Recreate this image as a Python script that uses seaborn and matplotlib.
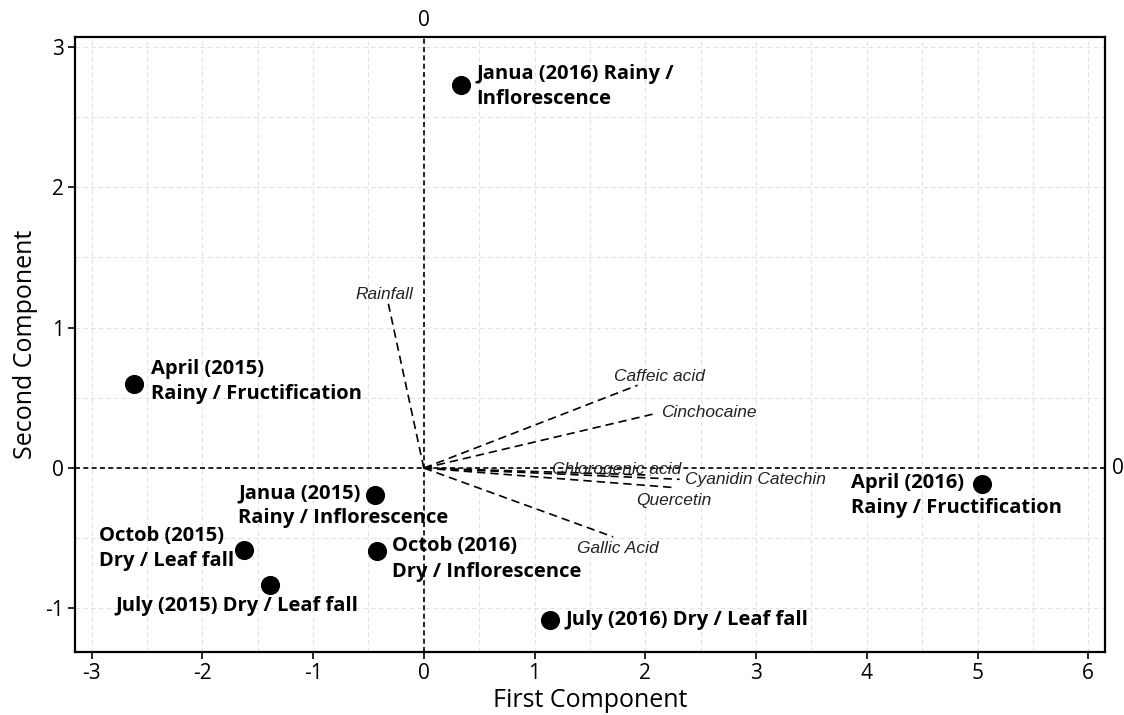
import matplotlib
matplotlib.use("Agg")
import matplotlib.pyplot as plt
import seaborn as sns
import pandas as pd
from matplotlib.ticker import MultipleLocator

# ---- data ----
sample_labels = [
    "Janua (2016) Rainy /\nInflorescence",
    "April (2015)\nRainy / Fructification",
    "Janua (2015)\nRainy / Inflorescence",
    "Octob (2015)\nDry / Leaf fall",
    "July (2015) Dry / Leaf fall",
    "Octob (2016)\nDry / Inflorescence",
    "July (2016) Dry / Leaf fall",
    "April (2016)\nRainy / Fructification",
]
pc1 = [0.34, -2.62, -0.44, -1.62, -1.39, -0.42, 1.14, 5.04]
pc2 = [2.73, 0.60, -0.19, -0.58, -0.83, -0.59, -1.08, -0.11]

var_labels = ["Rainfall", "Caffeic acid", "Cinchocaine", "Chlorogenic acid",
              "Cyanidin Catechin", "Quercetin", "Gallic Acid"]
load1 = [-0.32, 1.93, 2.10, 2.05, 2.31, 2.28, 1.71]
load2 = [1.17, 0.59, 0.39, -0.05, -0.08, -0.14, -0.49]

# ---- styling ----
sns.set_theme(style="white")
plt.rcParams["font.family"] = ["Open Sans", "DejaVu Sans"]
plt.rcParams["axes.unicode_minus"] = False
plt.rcParams["text.color"] = "black"
plt.rcParams["axes.labelcolor"] = "black"
plt.rcParams["xtick.color"] = "black"
plt.rcParams["ytick.color"] = "black"

fig = plt.figure(figsize=(11.24, 7.15), dpi=100)
ax = fig.add_axes([0.0667, 0.0881, 0.9163, 0.8601])

df = pd.DataFrame({"pc1": pc1, "pc2": pc2, "label": sample_labels})

ax.set_xlim(-3.15, 6.15)
ax.set_ylim(-1.31, 3.07)

# grid
ax.xaxis.set_major_locator(MultipleLocator(1))
ax.yaxis.set_major_locator(MultipleLocator(1))
ax.xaxis.set_minor_locator(MultipleLocator(0.5))
ax.yaxis.set_minor_locator(MultipleLocator(0.5))
ax.grid(True, which="both", color="#e2e2e2", linestyle=(0, (4, 3)), linewidth=0.8)
ax.set_axisbelow(True)

# reference lines
ax.axhline(0, color="black", linestyle=(0, (3, 2)), linewidth=1.2, zorder=2)
ax.axvline(0, color="black", linestyle=(0, (3, 2)), linewidth=1.2, zorder=2)

# loading vectors
for lx, ly in zip(load1, load2):
    ax.plot([0, lx], [0, ly], color="black", linestyle=(0, (5, 3)), linewidth=1.2, zorder=3)

var_offsets = [(-4, 2, "center", "bottom"), (-24, 9, "left", "center"),
               (5, 1, "left", "center"), (30, 6, "right", "center"),
               (5, 0, "left", "center"), (-3, -13, "center", "center"),
               (5, -12, "center", "center")]
for lab, lx, ly, (dx, dy, ha, va) in zip(var_labels, load1, load2, var_offsets):
    ax.annotate(lab, (lx, ly), xytext=(dx, dy), textcoords="offset pixels",
                ha=ha, va=va, fontsize=12.5, fontstyle="italic",
                family=["Liberation Sans", "DejaVu Sans"], color="#222222", zorder=4)

# samples
sns.scatterplot(data=df, x="pc1", y="pc2", ax=ax, s=190, color="black",
                edgecolor="black", linewidth=0, zorder=5, legend=False)

pt_offsets = [(15, -2, "left"), (17, 2, "left"), (-137, -11, "left"),
              (-145, 1, "left"), (-154, -21, "left"), (15, -8, "left"),
              (15, 0, "left"), (-131, -12, "left")]
for lab, x, y, (dx, dy, ha) in zip(sample_labels, pc1, pc2, pt_offsets):
    ax.annotate(lab, (x, y), xytext=(dx, dy), textcoords="offset pixels",
                ha=ha, va="center", fontsize=14.5, fontweight="bold",
                color="black", linespacing=1.35, zorder=6)

# zero labels on top and right
ax.text(0, 1.01, "0", transform=ax.get_xaxis_transform(), ha="center", va="bottom", fontsize=15)
ax.text(1.007, 0, "0", transform=ax.get_yaxis_transform(), ha="left", va="center", fontsize=15)

# spines / ticks
for sp in ax.spines.values():
    sp.set_visible(True)
    sp.set_color("black")
    sp.set_linewidth(1.6)
ax.tick_params(axis="both", which="major", direction="out", length=5, width=1.2,
               color="black", labelsize=15, left=True, bottom=True, pad=3)
ax.tick_params(axis="both", which="minor", length=0)

ax.set_xlabel("First Component", fontsize=18, labelpad=3)
ax.set_ylabel("Second Component", fontsize=18, labelpad=5)

fig.savefig("out.png", dpi=100)
